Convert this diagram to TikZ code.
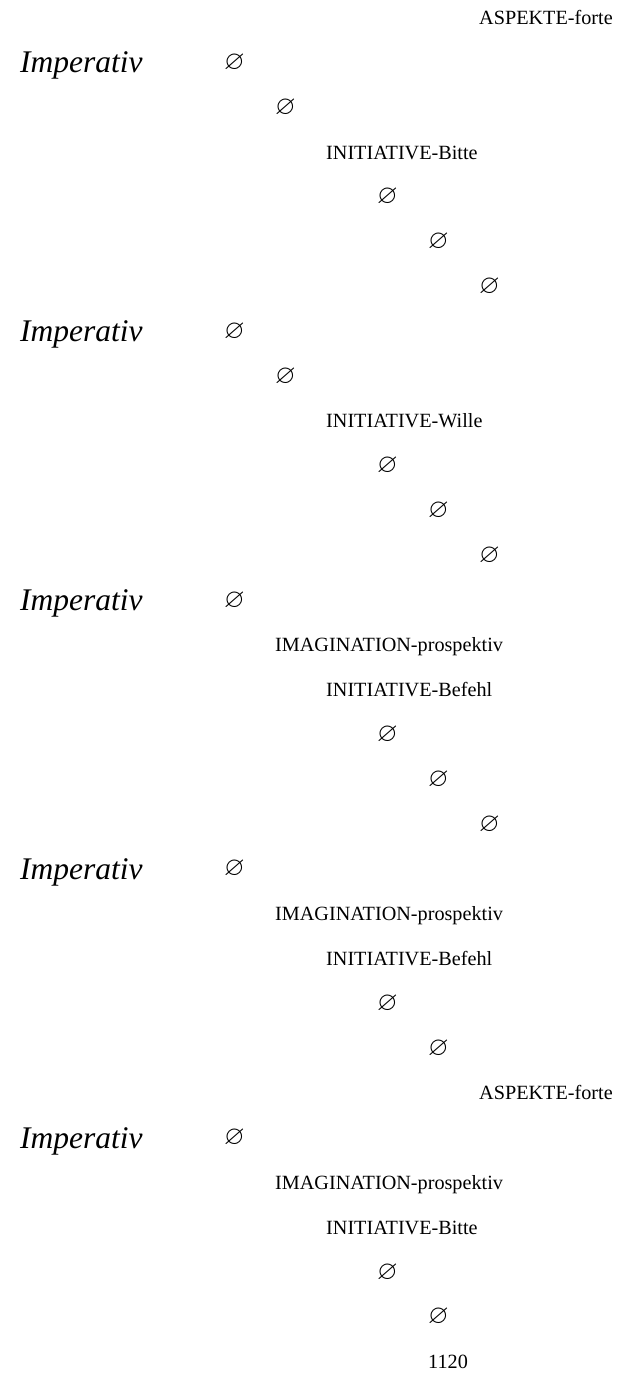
\documentclass[tikz,border=0pt]{standalone}
\usepackage{amssymb}
\usepackage{fontspec}
\setmainfont{Liberation Serif}
\newcommand{\emp}{{\fontsize{26.5}{30}\selectfont$\varnothing$}}
\begin{document}
\begin{tikzpicture}[x=1pt,y=-1pt,
  lbl/.style={anchor=base west,inner sep=0pt,font=\fontsize{20.2}{24}\selectfont},
  imp/.style={anchor=base west,inner sep=0pt,font=\fontsize{31.5}{36}\selectfont\itshape}]
\useasboundingbox (0,0) rectangle (618,1394);
\foreach \b in {0,...,4}
  \node[imp] (imp\b) at (20,{73+268.8*\b}) {Imperativ};
\foreach \lev/\row/\txt [count=\i] in {
  5/0/ASPEKTE-forte, 0/1/\emp, 1/2/\emp, 2/3/INITIATIVE-Bitte,
  3/4/\emp, 4/5/\emp, 5/6/\emp,
  0/7/\emp, 1/8/\emp, 2/9/INITIATIVE-Wille,
  3/10/\emp, 4/11/\emp, 5/12/\emp,
  0/13/\emp, 1/14/IMAGINATION-prospektiv, 2/15/INITIATIVE-Befehl,
  3/16/\emp, 4/17/\emp, 5/18/\emp,
  0/19/\emp, 1/20/IMAGINATION-prospektiv, 2/21/INITIATIVE-Befehl,
  3/22/\emp, 4/23/\emp, 5/24/ASPEKTE-forte,
  0/25/\emp, 1/26/IMAGINATION-prospektiv, 2/27/INITIATIVE-Bitte,
  3/28/\emp, 4/29/\emp, 4/30/1120}
  \node[lbl] (t\i) at ({224+51*\lev},{18+44.8*\row+6.7}) {\txt};
\end{tikzpicture}
\end{document}
